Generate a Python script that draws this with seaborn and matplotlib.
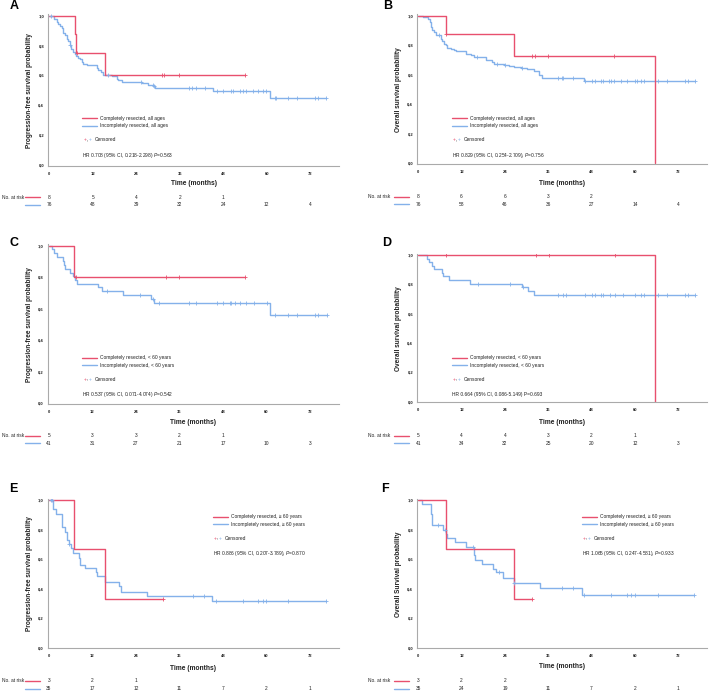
import numpy as np
import pandas as pd
import matplotlib
matplotlib.use("Agg")
import matplotlib.pyplot as plt
import seaborn as sns
from matplotlib.lines import Line2D
from matplotlib import transforms

# ---------------- data ----------------
month_ticks = [0, 12, 24, 36, 48, 60, 72]
prob_ticks = [0.0, 0.2, 0.4, 0.6, 0.8, 1.0]
prob_labels = ["0,0", "0,2", "0,4", "0,6", "0,8", "1,0"]

# Panel A: PFS, all ages
A_red_t = [7.1, 7.3, 15.4]
A_red_s = [0.875, 0.75, 0.60]
A_red_c = [7.6, 31.2, 31.7, 35.9, 54.0]
A_blue_t = [1.4, 2.0, 2.3, 2.9, 3.4, 3.9, 4.3, 4.8, 5.2, 5.7, 6.0, 6.6, 7.1, 7.5, 8.0, 8.5,
            8.9, 9.4, 10.3, 13.1, 13.5, 14.3, 14.9, 17.2, 18.6, 19.0, 20.0, 25.5, 27.3,
            28.7, 29.2, 45.2, 60.9]
A_blue_s = [0.976, 0.958, 0.947, 0.931, 0.918, 0.886, 0.868, 0.842, 0.828, 0.802, 0.775,
            0.757, 0.746, 0.730, 0.717, 0.708, 0.690, 0.679, 0.670, 0.650, 0.634, 0.623,
            0.605, 0.596, 0.578, 0.567, 0.556, 0.551, 0.538, 0.529, 0.514, 0.495, 0.449]
A_blue_c = [0.6, 5.7, 16.1, 25.3, 28.5, 29.0, 38.6, 39.5, 40.6, 42.9, 46.2, 48.0, 50.0,
            50.8, 52.6, 53.3, 54.3, 56.3, 57.7, 59.0, 59.9, 62.3, 62.5, 65.9, 68.4, 73.3,
            74.2, 76.3]
A_risk_red = [8, 5, 4, 2, 1]
A_risk_blue = [76, 48, 39, 32, 24, 12, 4]

# Panel B: OS, all ages
B_red_t = [7.6, 26.5, 65.5]
B_red_s = [0.875, 0.729, 0.0]
B_red_c = [7.8, 31.6, 32.2, 36.0, 54.3]
B_blue_t = [1.4, 2.7, 3.2, 3.6, 3.9, 4.3, 4.8, 6.2, 6.6, 7.1, 7.6, 8.0, 9.0, 9.9, 10.4,
            13.1, 14.5, 15.4, 18.7, 20.5, 21.0, 23.7, 25.1, 26.5, 28.4, 30.2, 32.0, 33.4,
            34.3, 46.0]
B_blue_s = [0.991, 0.975, 0.957, 0.923, 0.905, 0.889, 0.867, 0.844, 0.826, 0.810, 0.799,
            0.781, 0.776, 0.765, 0.758, 0.742, 0.735, 0.720, 0.697, 0.686, 0.674, 0.663,
            0.659, 0.652, 0.645, 0.636, 0.623, 0.595, 0.576, 0.558]
B_blue_c = [5.7, 16.2, 21.7, 24.0, 28.6, 38.8, 39.7, 40.2, 42.9, 46.2, 48.2, 48.9, 50.6,
            51.2, 52.8, 53.4, 54.3, 56.1, 57.7, 60.0, 60.5, 61.8, 62.6, 66.3, 68.8, 73.8,
            74.6, 76.6]
B_risk_red = [8, 6, 6, 3, 2]
B_risk_blue = [76, 58, 46, 36, 27, 14, 4]

# Panel C: PFS, < 60 years
C_red_t = [6.9]
C_red_s = [0.80]
C_red_c = [7.4, 32.3, 36.0, 54.1]
C_blue_t = [0.7, 1.4, 2.3, 3.8, 4.1, 4.4, 5.8, 6.5, 7.2, 7.8, 13.6, 14.5, 20.3, 28.0,
            29.0, 61.0]
C_blue_s = [0.976, 0.951, 0.927, 0.902, 0.878, 0.854, 0.829, 0.805, 0.780, 0.758, 0.735,
            0.713, 0.686, 0.664, 0.634, 0.563]
C_blue_c = [15.9, 25.1, 28.6, 30.4, 38.7, 40.6, 46.3, 47.9, 49.8, 50.3, 51.2, 52.6, 54.3,
            56.5, 60.0, 62.3, 66.0, 68.5, 73.3, 74.2, 76.6]
C_risk_red = [5, 3, 3, 2, 1]
C_risk_blue = [41, 31, 27, 21, 17, 10, 3]

# Panel D: OS, < 60 years
D_red_t = [65.5]
D_red_s = [0.0]
D_red_c = [7.8, 32.6, 36.2, 54.5]
D_blue_t = [2.3, 3.0, 3.7, 4.4, 6.6, 6.9, 8.5, 14.3, 28.8, 30.3, 32.1]
D_blue_s = [0.976, 0.951, 0.927, 0.902, 0.878, 0.854, 0.829, 0.805, 0.780, 0.753, 0.725]
D_blue_c = [16.4, 25.4, 29.1, 38.8, 40.2, 40.8, 46.2, 48.2, 48.9, 50.6, 51.2, 53.1, 54.5,
            56.8, 60.0, 61.7, 62.6, 66.3, 68.8, 73.8, 74.6, 76.6]
D_risk_red = [5, 4, 4, 3, 2, 1]
D_risk_blue = [41, 34, 32, 25, 20, 12, 3]

# Panel E: PFS, >= 60 years
E_red_t = [7.0, 15.4]
E_red_s = [0.667, 0.333]
E_red_c = [31.5]
E_blue_t = [1.1, 2.0, 3.6, 4.5, 5.1, 5.4, 6.0, 6.6, 8.2, 8.5, 9.8, 13.1, 13.3, 15.4, 19.2,
            19.8, 26.9, 45.0]
E_blue_s = [0.939, 0.905, 0.815, 0.785, 0.729, 0.700, 0.673, 0.639, 0.605, 0.560, 0.542,
            0.510, 0.487, 0.443, 0.420, 0.379, 0.350, 0.313]
E_blue_c = [0.6, 0.9, 5.5, 39.6, 42.7, 46.2, 53.4, 57.7, 58.9, 59.9, 66.0, 76.4]
E_risk_red = [3, 2, 1]
E_risk_blue = [35, 17, 12, 11, 7, 2, 1]

# Panel F: OS, >= 60 years
F_red_t = [7.6, 26.5]
F_red_s = [0.667, 0.333]
F_red_c = [31.6]
F_blue_t = [1.1, 3.6, 3.9, 6.9, 7.6, 7.9, 10.1, 13.1, 15.4, 15.6, 17.7, 20.8, 21.4, 23.4,
            26.5, 33.7, 45.4]
F_blue_s = [0.971, 0.905, 0.831, 0.797, 0.768, 0.745, 0.718, 0.684, 0.628, 0.594, 0.565,
            0.533, 0.510, 0.474, 0.436, 0.402, 0.357]
F_blue_c = [5.5, 7.4, 15.2, 22.3, 26.6, 39.7, 42.9, 46.0, 53.5, 57.7, 58.9, 60.0, 66.3, 76.4]
F_risk_red = [3, 2, 2]
F_risk_blue = [35, 24, 19, 11, 7, 2, 1]

panel_letters = ["A", "B", "C", "D", "E", "F"]
y_titles = ["Progression-free survival probability", "Overall survival probability",
            "Progression-free survival probability", "Overall survival probability",
            "Progression-free survival probability", "Overall Survival probability"]
red_labels = ["Completely resected, all ages", "Completely resected, all ages",
              "Completely resected, < 60 years", "Completely resected, < 60 years",
              "Completely resected, \u2265 60 years", "Completely resected, \u2265 60 years"]
blue_labels = ["Incompletely resected, all ages", "Incompletely resected, all ages",
               "Incompletely resected, < 60 years", "Incompletely resected, < 60 years",
               "Incompletely resected, \u2265 60 years", "Incompletely resected, \u2265 60 years"]
hr_texts = [r"HR 0.708 (95% CI, 0.218-2.298) $\mathit{P}$=0.563",
            r"HR 0.829 (95% CI, 0.254-2.709), $\mathit{P}$=0.756",
            r"HR 0.537 (95% CI, 0.071-4.074) $\mathit{P}$=0.542",
            r"HR 0.664 (95% CI, 0.086-5.149) P=0.693",
            r"HR 0.886 (95% CI, 0.207-3.789), $\mathit{P}$=0.870",
            r"HR 1.065 (95% CI, 0.247-4.581), $\mathit{P}$=0.933"]

# ---------------- style ----------------
sns.set_style("white")
plt.rcParams["font.family"] = ["Liberation Sans", "DejaVu Sans"]
plt.rcParams["mathtext.fontset"] = "custom"
plt.rcParams["mathtext.rm"] = "Liberation Sans"
plt.rcParams["mathtext.it"] = "Liberation Sans:italic"

RED = "#E8506E"
BLUE = "#84B1EA"
TXT = "#222222"
SPINE = "#AAAAAA"
W, H = 709, 691

fig = plt.figure(figsize=(W / 100, H / 100), dpi=100)

# layout (pixels): x of month 0, px per month, y of 1.0, y of 0.0
layout = [
    dict(x0=49.3, ppm=3.625, y1=15.7, y0=165.0, letter=(9.3, 9.3), leg=(82.3, 118.3),
         risk_y=197.0, xlab_y=183.3, ylab_x=30.0, nar_x=1.7, seg=(25, 40)),
    dict(x0=418.3, ppm=3.61, y1=15.7, y0=163.0, letter=(382.7, 9.3), leg=(451.7, 118.3),
         risk_y=196.7, xlab_y=184.0, ylab_x=398.3, nar_x=368.3, seg=(394.3, 409.3)),
    dict(x0=49.0, ppm=3.625, y1=245.7, y0=403.3, letter=(9.3, 245.7), leg=(82.3, 357.7),
         risk_y=435.7, xlab_y=422.3, ylab_x=30.0, nar_x=1.7, seg=(25, 40)),
    dict(x0=418.3, ppm=3.61, y1=255.0, y0=401.7, letter=(382.3, 245.7), leg=(451.7, 357.7),
         risk_y=435.7, xlab_y=422.3, ylab_x=398.3, nar_x=368.3, seg=(394.3, 409.3)),
    dict(x0=49.0, ppm=3.625, y1=500.0, y0=647.7, letter=(9.3, 492.3), leg=(212.7, 516.7),
         risk_y=681.0, xlab_y=668.3, ylab_x=30.0, nar_x=1.7, seg=(25, 40)),
    dict(x0=418.3, ppm=3.61, y1=500.0, y0=647.7, letter=(381.0, 492.3), leg=(581.7, 516.7),
         risk_y=681.0, xlab_y=666.7, ylab_x=398.3, nar_x=368.3, seg=(394.3, 409.3)),
]

curves = [
    ((A_red_t, A_red_s, A_red_c), (A_blue_t, A_blue_s, A_blue_c), A_risk_red, A_risk_blue),
    ((B_red_t, B_red_s, B_red_c), (B_blue_t, B_blue_s, B_blue_c), B_risk_red, B_risk_blue),
    ((C_red_t, C_red_s, C_red_c), (C_blue_t, C_blue_s, C_blue_c), C_risk_red, C_risk_blue),
    ((D_red_t, D_red_s, D_red_c), (D_blue_t, D_blue_s, D_blue_c), D_risk_red, D_risk_blue),
    ((E_red_t, E_red_s, E_red_c), (E_blue_t, E_blue_s, E_blue_c), E_risk_red, E_risk_blue),
    ((F_red_t, F_red_s, F_red_c), (F_blue_t, F_blue_s, F_blue_c), F_risk_red, F_risk_blue),
]

XMIN, XMAX = -0.3, 80.0
YMIN, YMAX = -0.005, 1.01


def fx(p):
    return p / W


def fy(p):
    return 1 - p / H


def km_steps(t, s, censors):
    x = [0.0] + list(t)
    y = [1.0] + list(s)
    end = max([x[-1]] + list(censors))
    if end > x[-1] and y[-1] > 0:
        x.append(end)
        y.append(y[-1])
    return np.array(x), np.array(y)


def draw_curve(ax, data, color):
    t, s, c = data
    x, y = km_steps(t, s, c)
    df = pd.DataFrame({"time": x, "surv": y})
    sns.lineplot(data=df, x="time", y="surv", ax=ax, color=color, lw=1.0,
                 drawstyle="steps-post", estimator=None, sort=False, errorbar=None)
    ev_x = np.array([0.0] + list(t))
    ev_y = np.array([1.0] + list(s))
    idx = np.searchsorted(ev_x, np.array(c), side="right") - 1
    cdf = pd.DataFrame({"time": c, "surv": ev_y[idx]})
    sns.scatterplot(data=cdf, x="time", y="surv", ax=ax, marker="+", s=9, color=color,
                    linewidth=0.6, zorder=4, legend=False)


for i, L in enumerate(layout):
    red, blue, risk_red, risk_blue = curves[i]
    span = L["y0"] - L["y1"]
    left = L["x0"] + XMIN * L["ppm"]
    right = L["x0"] + XMAX * L["ppm"]
    bot = L["y0"] - YMIN * span
    top = L["y0"] - YMAX * span
    ax = fig.add_axes([fx(left), fy(bot), (right - left) / W, (bot - top) / H])

    draw_curve(ax, blue, BLUE)
    draw_curve(ax, red, RED)

    ax.set_xlim(XMIN, XMAX)
    ax.set_ylim(YMIN, YMAX)
    ax.set_xticks(month_ticks)
    ax.set_xticklabels([str(m) for m in month_ticks], fontsize=3, fontweight="bold", color=TXT)
    ax.set_yticks(prob_ticks)
    ax.set_yticklabels(prob_labels, fontsize=3, fontweight="bold", color=TXT)
    ax.tick_params(axis="x", length=1.8, width=0.5, pad=2.5, colors=SPINE, labelcolor=TXT)
    ax.tick_params(axis="y", length=1.5, width=0.5, pad=1.5, colors=SPINE, labelcolor=TXT)
    ax.set_xlabel("")
    ax.set_ylabel("")
    for sp in ["top", "right"]:
        ax.spines[sp].set_visible(False)
    for sp in ["left", "bottom"]:
        ax.spines[sp].set_color(SPINE)
        ax.spines[sp].set_linewidth(0.8)

    # axis titles
    xc = (left + right) / 2
    fig.text(fx(xc), fy(L["xlab_y"]), "Time (months)", ha="center", va="center",
             fontsize=4.8, fontweight="bold", color=TXT)
    fig.text(fx(L["ylab_x"]), fy((L["y0"] + L["y1"]) / 2), y_titles[i], ha="center",
             va="center", rotation=90, fontsize=4.7, fontweight="bold", color=TXT)

    # panel letter
    fig.text(fx(L["letter"][0]), fy(L["letter"][1]), panel_letters[i], ha="left",
             va="baseline", fontsize=9, fontweight="bold", color="black")

    # legend block
    lx, ly = L["leg"]
    fig.add_artist(Line2D([fx(lx), fx(lx + 15)], [fy(ly), fy(ly)], color=RED, lw=1.0))
    fig.add_artist(Line2D([fx(lx), fx(lx + 15)], [fy(ly + 7.6), fy(ly + 7.6)], color=BLUE, lw=1.0))
    fig.text(fx(lx + 18), fy(ly), red_labels[i], ha="left", va="center", fontsize=3.5, color=TXT)
    fig.text(fx(lx + 18), fy(ly + 7.6), blue_labels[i], ha="left", va="center", fontsize=3.5, color=TXT)
    cy = ly + 21.5
    fig.text(fx(lx + 2.5), fy(cy), "+", ha="center", va="center", fontsize=3.5, color=RED)
    fig.text(fx(lx + 5), fy(cy), ",", ha="center", va="center", fontsize=3.5, color=TXT)
    fig.text(fx(lx + 7.5), fy(cy), "+", ha="center", va="center", fontsize=3.5, color=BLUE)
    fig.text(fx(lx + 12), fy(cy), "Censored", ha="left", va="center", fontsize=3.5, color=TXT)
    fig.text(fx(lx), fy(ly + 37), hr_texts[i], ha="left", va="center", fontsize=3.5, color=TXT)

    # number at risk table
    r1 = L["risk_y"]
    r2 = r1 + 7.5
    fig.text(fx(L["nar_x"]), fy(r1), "No. at risk", ha="left", va="center", fontsize=3.5, color=TXT)
    s0, s1 = L["seg"]
    fig.add_artist(Line2D([fx(s0), fx(s1)], [fy(r1), fy(r1)], color=RED, lw=1.0))
    fig.add_artist(Line2D([fx(s0), fx(s1)], [fy(r2), fy(r2)], color=BLUE, lw=1.0))
    trans = transforms.blended_transform_factory(ax.transData, fig.transFigure)
    for m, n in zip(month_ticks, risk_red):
        ax.text(m, fy(r1), str(n), transform=trans, ha="center", va="center",
                fontsize=3.5, color=TXT, clip_on=False)
    for m, n in zip(month_ticks, risk_blue):
        ax.text(m, fy(r2), str(n), transform=trans, ha="center", va="center",
                fontsize=3.5, color=TXT, clip_on=False)

fig.savefig("out.png", dpi=100, facecolor="white")
